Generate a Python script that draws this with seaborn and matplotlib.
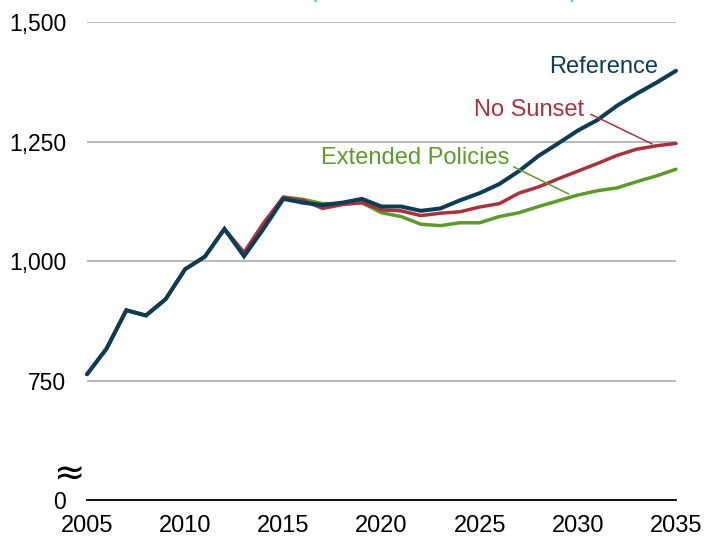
import pandas as pd
import matplotlib.pyplot as plt
import seaborn as sns

# ---- data ----
years = list(range(2005, 2036))

reference = [763, 817, 897, 886, 920, 983, 1009, 1067, 1010, 1068,
             1130, 1122, 1117, 1122, 1130, 1114, 1114, 1105, 1110, 1127,
             1142, 1161, 1188, 1220, 1246, 1273, 1295, 1325, 1350, 1373, 1398]

no_sunset = [763, 817, 897, 886, 920, 983, 1009, 1067, 1018, 1080,
             1133, 1127, 1110, 1118, 1122, 1107, 1105, 1095, 1100, 1103,
             1113, 1120, 1142, 1155, 1172, 1188, 1204, 1221, 1234, 1241, 1246]

extended = [763, 817, 897, 886, 920, 983, 1009, 1067, 1015, 1078,
            1134, 1129, 1120, 1120, 1122, 1101, 1093, 1077, 1074, 1080,
            1080, 1093, 1101, 1114, 1126, 1138, 1147, 1153, 1166, 1178, 1192]

series_names = ["Extended Policies", "No Sunset", "Reference"]
colors = {"Reference": "#0d3c55", "No Sunset": "#a8323e", "Extended Policies": "#5c9a2c"}

ytick_vals = [500, 750, 1000, 1250, 1500]
ytick_labels = ["0", "750", "1,000", "1,250", "1,500"]
xtick_vals = [2005, 2010, 2015, 2020, 2025, 2030, 2035]

df = pd.DataFrame({"year": years, "Reference": reference,
                   "No Sunset": no_sunset, "Extended Policies": extended})
long_df = df.melt(id_vars="year", var_name="case", value_name="value")

# ---- style ----
sns.set_style("white")
plt.rcParams["font.family"] = ["Liberation Sans", "DejaVu Sans"]

fig = plt.figure(figsize=(7.04, 5.37), dpi=100)
ax = fig.add_axes([0.1236, 0.0689, 0.8366, 0.8901])

sns.lineplot(data=long_df, x="year", y="value", hue="case", hue_order=series_names,
             palette=colors, legend=False, ax=ax)
for line, lw in zip(ax.lines, [2.5, 2.5, 2.9]):
    line.set_linewidth(lw)
    line.set_clip_on(False)
    line.set_solid_joinstyle("miter")

ax.set_xlim(2005, 2035)
ax.set_ylim(500, 1500)
ax.set_xticks(xtick_vals)
ax.set_yticks(ytick_vals)
ax.set_yticklabels(ytick_labels)
ax.set_xlabel("")
ax.set_ylabel("")

for s in ["top", "right", "left"]:
    ax.spines[s].set_visible(False)
ax.spines["bottom"].set_color("black")
ax.spines["bottom"].set_linewidth(1.3)
ax.spines["bottom"].set_zorder(5)

ax.yaxis.grid(True, color="#a6a6a6", linewidth=1.1)
ax.set_axisbelow(True)
ax.tick_params(axis="y", length=0, pad=15, labelsize=16.5, labelcolor="black")
ax.tick_params(axis="x", direction="out", length=7, width=1.3, color="black",
               pad=4, labelsize=15.5, labelcolor="black")
for lab in ax.get_xticklabels():
    lab.set_fontfamily(["Liberation Sans Narrow", "Liberation Sans"])
    lab.set_fontsize(17)

# axis break mark
ax.text(-0.031, 0.052, "\u2248", transform=ax.transAxes, ha="center", va="center",
        fontsize=27, family="DejaVu Sans", color="black")

# series labels with leader lines
ax.text(2034.1, 1406, "Reference", color=colors["Reference"], fontsize=17,
        ha="right", va="center")
ax.text(2030.3, 1316, "No Sunset", color=colors["No Sunset"], fontsize=17,
        ha="right", va="center")
ax.text(2026.5, 1215, "Extended Policies", color=colors["Extended Policies"],
        fontsize=17, ha="right", va="center")
ax.plot([2030.66, 2033.78], [1307, 1245], color=colors["No Sunset"], lw=1.1)
ax.plot([2026.73, 2029.54], [1197, 1140], color=colors["Extended Policies"], lw=1.1)

# clipped title at the very top
fig.text(10 / 704, 1.006, "Total emissions, 2005 to 2035 (million metric tons carbon)",
         color="#3fa9f5", fontsize=16, ha="left", va="baseline")

fig.savefig("out.png", dpi=100)
